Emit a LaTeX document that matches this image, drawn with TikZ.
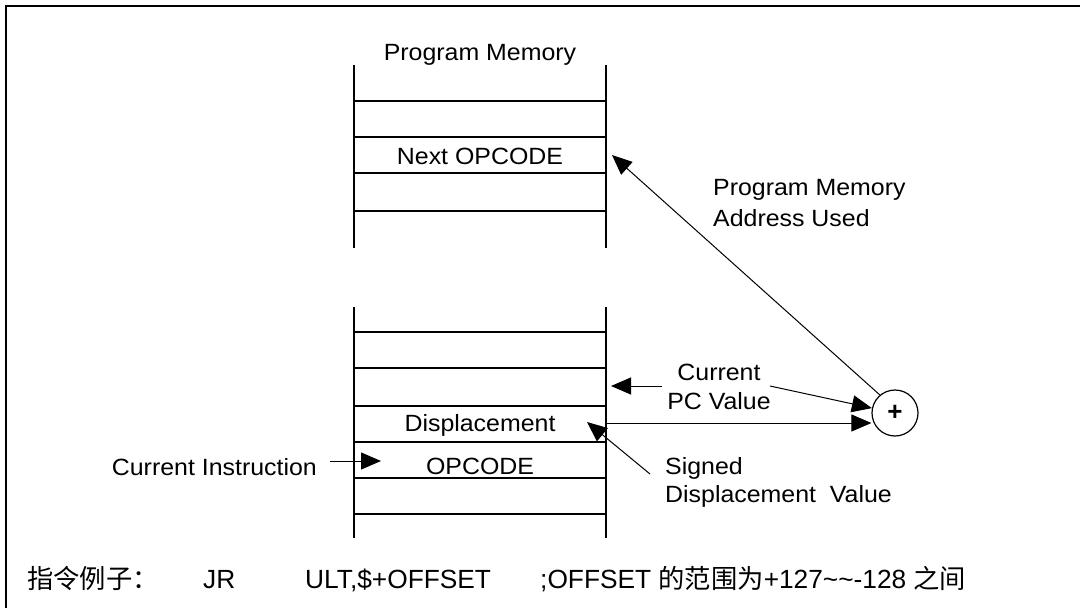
\documentclass[tikz,border=0pt]{standalone}
\usepackage{fontspec}
\setmainfont{Liberation Sans}
\newfontfamily\lblfont[FakeStretch=1.06]{Liberation Sans}
\newfontfamily\cjk{Noto Sans CJK SC}
\usetikzlibrary{arrows.meta}
\begin{document}
\begin{tikzpicture}[x=1pt,y=-1pt,
  lbl/.style={inner sep=0pt,font=\lblfont\fontsize{23.5}{27}\selectfont},
  foot/.style={inner sep=0pt,font=\fontsize{26.3}{30}\selectfont},
  memline/.style={line width=1.5pt},
  conn/.style={line width=1pt,-{Triangle[length=20pt,width=17pt]}},
  plain/.style={line width=1pt}]
\useasboundingbox (0,0) rectangle (1080,608);
\draw[line width=2.2pt] (6,608) -- (6,6) -- (1080,6);
% top memory
\draw[memline] (354,65) -- (354,248);
\draw[memline] (606,65) -- (606,248);
\foreach \y in {101,137,173,211} \draw[memline] (354,\y) -- (606,\y);
\node[lbl,anchor=base] (pm) at (480,60) {Program Memory};
\node[lbl,anchor=base] (next) at (480,164) {Next OPCODE};
\coordinate (nexttip) at (612,155);
% bottom memory
\draw[memline] (354,307) -- (354,538);
\draw[memline] (606,307) -- (606,538);
\foreach \y in {332,368,406,442,478,514} \draw[memline] (354,\y) -- (606,\y);
\node[lbl,anchor=base] (disp) at (480,431) {Displacement};
\node[lbl,anchor=base] (op) at (480,474) {OPCODE};
\coordinate (disptip) at (587,422);
\coordinate (dispright) at (607,423);
\coordinate (pctip) at (611,386);
% current instruction
\node[lbl,anchor=base east] (ci) at (317,475) {Current Instruction};
\coordinate (cistart) at (330,461);
\coordinate (citip) at (381,461);
\draw[conn] (cistart) -- (citip);
% adder
\node[draw,circle,line width=1.2pt,minimum size=46pt,inner sep=0pt,font=\fontsize{26}{28}\selectfont\bfseries] (add) at (895,413) {+};
% program memory address used
\node[lbl,anchor=base west] (pma1) at (713,195) {Program Memory};
\node[lbl,anchor=base west] (pma2) at (713,226) {Address Used};
\draw[conn] (add.130) -- (nexttip);
% current PC value
\node[lbl,anchor=base] (cur1) at (719,380) {Current};
\node[lbl,anchor=base] (cur2) at (719,409) {PC Value};
\coordinate (pcstart) at (662,386);
\draw[conn] (pcstart) -- (pctip);
\coordinate (pcfrom) at (770,386);
\draw[conn] (pcfrom) -- (add.168);
\draw[conn] (dispright) -- (add.west |- dispright);
% signed displacement value
\node[lbl,anchor=base west] (sd1) at (665,474) {Signed};
\node[lbl,anchor=base west] (sd2) at (665,502) {Displacement~ Value};
\coordinate (sdstart) at (650,474);
\draw[conn] (sdstart) -- (disptip);
% footer
\node[foot,anchor=base west] (f1) at (27,588) {\cjk 指令例子：};
\node[foot,anchor=base west] (f2) at (203,588) {JR};
\node[foot,anchor=base west] (f3) at (305,588) {ULT,\$+OFFSET};
\node[foot,anchor=base west] (f4) at (540,588) {;OFFSET {\cjk 的范围为}+127\textasciitilde\textasciitilde-128 {\cjk 之间}};
\end{tikzpicture}
\end{document}
